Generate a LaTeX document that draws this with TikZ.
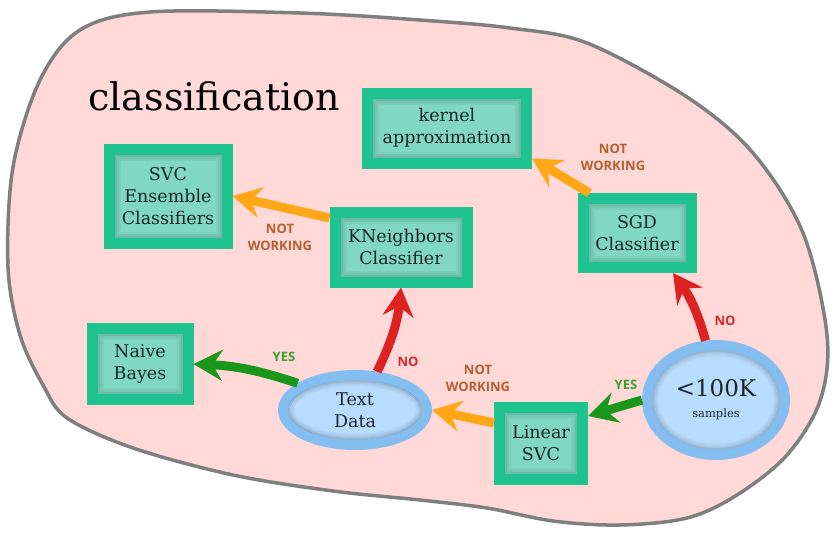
\documentclass[tikz,border=0pt]{standalone}
\usepackage{fontspec}
\setmainfont{DejaVu Serif}
\newfontfamily\lblfont{Open Sans}
\usetikzlibrary{arrows.meta,shapes.geometric,shadows}
\definecolor{blobfill}{HTML}{FFD8D8}
\definecolor{blobline}{HTML}{7F7F7F}
\definecolor{boxline}{HTML}{1EC38F}
\definecolor{boxfill}{HTML}{7FD8BF}
\definecolor{ellline}{HTML}{84BDF0}
\definecolor{ellfill}{HTML}{B8DCFD}
\definecolor{arrorange}{HTML}{FFA716}
\definecolor{arrred}{HTML}{DD2222}
\definecolor{arrgreen}{HTML}{1A961B}
\definecolor{lblbrown}{HTML}{B5602F}
\definecolor{lblred}{HTML}{D42A2A}
\definecolor{lblgreen}{HTML}{3AA12B}
\definecolor{txt}{HTML}{1A2626}
\begin{document}
\begin{tikzpicture}[x=1pt,y=-1pt,
  gbox/.style={rectangle, draw=boxline, line width=11pt, fill=boxfill,
    align=center, inner sep=0pt, text=txt,
    font=\fontsize{17.5}{22}\selectfont,
    drop shadow={shadow xshift=2pt,shadow yshift=-2pt,opacity=0.2},
    path picture={
      \foreach \i/\o in {6.5/0.14,8.5/0.08,10.5/0.04}
        \draw[black,opacity=\o,line width=2pt]
          ([shift={(\i pt,-\i pt)}]path picture bounding box.north west)
          rectangle ([shift={(-\i pt,\i pt)}]path picture bounding box.south east);
    }},
  gell/.style={ellipse, draw=ellline, line width=10pt, fill=ellfill,
    align=center, inner sep=0pt, text=txt,
    drop shadow={shadow xshift=2pt,shadow yshift=-2pt,opacity=0.16}},
  eshade/.style={black, line width=2pt},
  arr/.style={line width=9pt, -{Stealth[length=29pt,width=31pt,inset=10pt]}},
  lbl/.style={font=\lblfont\bfseries\fontsize{13}{17}\selectfont, align=center, inner sep=0pt}
  ]
\useasboundingbox (0,0) rectangle (840,538);

% background blob
\draw[blobline, fill=blobfill, line width=3.5pt]
  plot[smooth cycle, tension=0.55] coordinates {
  (150,12) (300,13) (420,20) (510,28) (587,43) (687,97) (753,153) (803,233)
  (827,335) (820,401) (787,455) (737,495) (687,518) (620,525) (553,521)
  (487,508) (420,500) (333,491) (233,475) (133,448) (67,418) (43,385)
  (20,335) (8,267) (13,167) (40,80) (80,30)};

\node[anchor=base west, font=\fontsize{38}{40}\selectfont, text=black] (title) at (85,110) {classification};

% boxes
\node[gbox, minimum width=118pt, minimum height=94pt] (svc) at (168,196) {SVC\\Ensemble\\Classifiers};
\node[gbox, minimum width=159pt, minimum height=70pt] (kernel) at (447,128) {kernel\\approximation};
\node[gbox, minimum width=132pt, minimum height=70pt] (knn) at (401,247) {KNeighbors\\Classifier};
\node[gbox, minimum width=108pt, minimum height=69pt] (sgd) at (637,233) {SGD\\Classifier};
\node[gbox, minimum width=96pt, minimum height=71pt] (nb) at (140,364) {Naive\\Bayes};
\node[gbox, minimum width=83pt, minimum height=72pt] (lsvc) at (541,443) {Linear\\SVC};

% ellipses
\node[gell, minimum width=144pt, minimum height=70pt,
      font=\fontsize{17.5}{22}\selectfont] (textd) at (355,410) {Text\\Data};
\node[gell, minimum width=138pt, minimum height=110pt,
      font=\fontsize{11.5}{21}\selectfont] (big) at (716,400)
  {{\fontsize{23}{21}\selectfont <100K}\\samples};

\foreach \d/\o in {0/0.16,2/0.09,4/0.04}{
  \draw[eshade,opacity=\o] (textd.center) ellipse [x radius={(66-\d)*1pt}, y radius={(29-\d)*1pt}];
  \draw[eshade,opacity=\o] (big.center) ellipse [x radius={(63-\d)*1pt}, y radius={(49-\d)*1pt}];
}

% arrows
\draw[arr, arrorange] ([yshift=29pt]knn.west) -- (svc.east);
\draw[arr, arrorange] ([xshift=12pt]sgd.north west) -- ([yshift=10pt]kernel.south east);
\draw[arr, arrred] (big.100) to[bend right=10] ([xshift=36pt]sgd.south);
\draw[arr, arrgreen] (big.west) -- ([yshift=27pt]lsvc.east);
\draw[arr, arrorange] ([yshift=20pt]lsvc.west) -- (textd.east);
\draw[arr, arrred] (textd.60) to[bend right=10] (knn.south);
\draw[arr, arrgreen] (textd.155) to[bend right=8] (nb.east);

% labels
\node[lbl, text=lblbrown] (l1) at (280,237) {NOT\\WORKING};
\node[lbl, text=lblbrown] (l2) at (613,157) {NOT\\WORKING};
\node[lbl, text=lblred] (l3) at (725,321) {NO};
\node[lbl, text=lblgreen] (l4) at (626,385) {YES};
\node[lbl, text=lblbrown] (l5) at (478,378) {NOT\\WORKING};
\node[lbl, text=lblred] (l6) at (408,362) {NO};
\node[lbl, text=lblgreen] (l7) at (284,357) {YES};
\end{tikzpicture}
\end{document}
